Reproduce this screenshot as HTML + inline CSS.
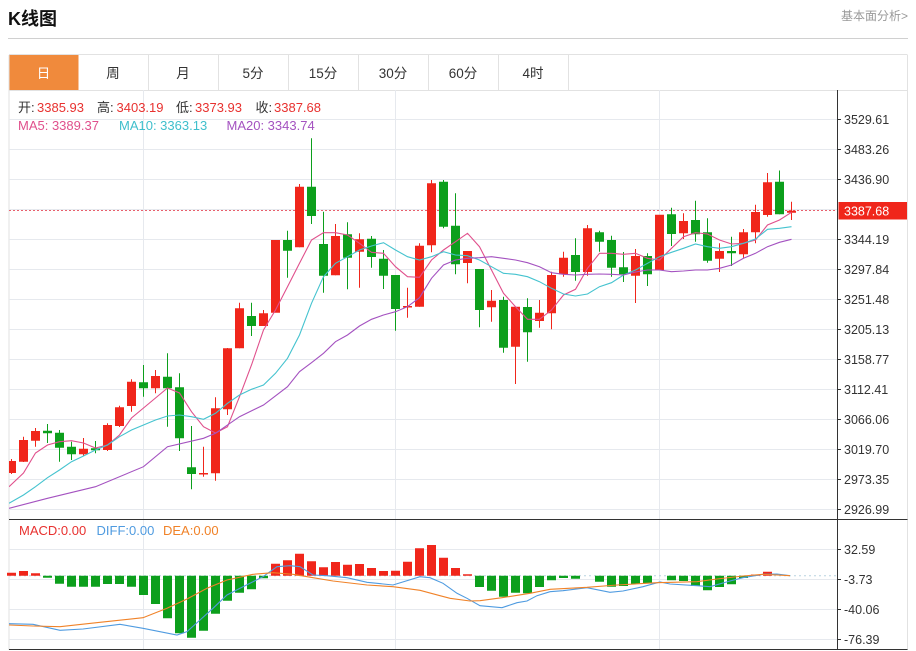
<!DOCTYPE html>
<html><head><meta charset="utf-8"><style>
html,body{margin:0;padding:0;background:#fff;width:916px;height:651px;overflow:hidden}
svg{display:block}
text{font-family:"Liberation Sans","Noto Sans CJK SC",sans-serif}
</style></head><body>
<svg width="916" height="651" viewBox="0 0 916 651" xmlns="http://www.w3.org/2000/svg">
<defs><clipPath id="mc"><rect x="9" y="90" width="828" height="429"/></clipPath></defs>
<!-- header -->
<text x="8" y="25" font-size="18" font-weight="bold" fill="#111">K线图</text>
<text x="841" y="20" font-size="12" fill="#999">基本面分析&gt;</text>
<line x1="8" y1="38.5" x2="908" y2="38.5" stroke="#d0d0d0"/>
<!-- tabs -->
<rect x="9" y="55" width="69.5" height="35" fill="#f08a3c"/>
<path d="M9 54.5H907.5M9 90.5H907.5M148.5 55V90M218.5 55V90M288.5 55V90M358.5 55V90M428.5 55V90M498.5 55V90M568.5 55V90M9 55V650M907.5 55V650" stroke="#e2e2e2" fill="none"/>
<g font-size="13.5" fill="#333" text-anchor="middle">
<text x="43.5" y="78" fill="#fff">日</text><text x="113" y="78">周</text><text x="183" y="78">月</text><text x="253" y="78">5分</text><text x="323" y="78">15分</text><text x="393" y="78">30分</text><text x="463" y="78">60分</text><text x="533" y="78">4时</text>
</g>
<!-- grid -->
<path d="M9 119.5H837M9 149.5H837M9 179.5H837M9 209.5H837M9 239.5H837M9 269.5H837M9 299.5H837M9 329.5H837M9 359.5H837M9 389.5H837M9 419.5H837M9 449.5H837M9 479.5H837M9 509.5H837M9 549.5H837M9 579.5H837M9 609.5H837M9 639.5H837M143.5 90V650M395.5 90V650M659.5 90V650" stroke="#e6e9ee" fill="none"/>
<!-- frames -->
<path d="M9 519.5H907.5M9 649.5H907.5M837.5 90V650" stroke="#333" fill="none"/>
<!-- axis ticks -->
<path d="M837 119.5h4M837 149.5h4M837 179.5h4M837 239.5h4M837 269.5h4M837 299.5h4M837 329.5h4M837 359.5h4M837 389.5h4M837 419.5h4M837 449.5h4M837 479.5h4M837 509.5h4M837 549.5h4M837 579.5h4M837 609.5h4M837 639.5h4" stroke="#333"/>
<g font-size="12.5" fill="#333">
<text x="844" y="124">3529.61</text><text x="844" y="154">3483.26</text><text x="844" y="184">3436.90</text><text x="844" y="244">3344.19</text><text x="844" y="274">3297.84</text><text x="844" y="304">3251.48</text><text x="844" y="334">3205.13</text><text x="844" y="364">3158.77</text><text x="844" y="394">3112.41</text><text x="844" y="424">3066.06</text><text x="844" y="454">3019.70</text><text x="844" y="484">2973.35</text><text x="844" y="514">2926.99</text>
<text x="844" y="554">32.59</text><text x="844" y="584">-3.73</text><text x="844" y="614">-40.06</text><text x="844" y="644">-76.39</text>
</g>
<!-- current price -->
<line x1="9" y1="210.5" x2="837" y2="210.5" stroke="#e8606e" stroke-dasharray="2,2"/>
<rect x="838.5" y="202" width="68.5" height="17.5" fill="#f0261b"/>
<text x="844" y="215.5" font-size="12.5" fill="#fff">3387.68</text>
<g clip-path="url(#mc)">
<!-- wicks -->
<path stroke="#f0261b" fill="none" d="M11.5 459V474M23.5 436.7V462M35.5 428V446.7M83.5 438V456M107.5 423.3V451M119.5 405.7V427M131.5 379.3V411.7M155.5 370V393.3M203.5 446.7V476.7M215.5 397.3V480.7M227.5 348V415M239.5 302.7V348.3M263.5 310V326M299.5 184V247.3M335.5 224V275.3M359.5 233.3V287.7M407.5 287.7V317.7M419.5 243.3V306.7M431.5 180V252.3M467.5 251V283.3M491.5 290V321.7M515.5 306.7V384M539.5 300V327.7M551.5 271.7V329.3M563.5 251.7V276.7M587.5 225V275.7M635.5 249V303M683.5 213.3V239M719.5 243.3V272M743.5 229V257.7M755.5 204.7V243.3M767.5 173V216.7M791.5 201.7V220"/>
<path stroke="#0c9f1c" fill="none" d="M47.5 424V443M59.5 430V461.7M71.5 441.7V460M95.5 441V453.3M143.5 365V396.7M167.5 353.3V426.7M179.5 373.3V451M191.5 426V489.3M251.5 302.7V336M287.5 230.7V277.7M311.5 138.3V224M323.5 211.7V292.7M347.5 222.3V289.3M371.5 236V267.7M383.5 250V289M395.5 275V330.7M443.5 180V228.3M455.5 193.3V274.3M479.5 269V327.3M503.5 296.7V352.7M527.5 298.3V361.7M575.5 238.3V280.7M599.5 230.7V251.7M611.5 235.7V276.7M623.5 252V282M647.5 253.3V286M671.5 207.7V246M695.5 200.7V241.7M707.5 218.3V262.7M731.5 236.7V266M779.5 170.5V214.3"/>
<!-- bodies -->
<path fill="#f0261b" d="M7 461h9v12h-9zM19 440h9v21.7h-9zM31 431h9v9.7h-9zM79 448.7h9v5.6h-9zM103 425h9v25h-9zM115 407.3h9v18.7h-9zM127 381.7h9v24.3h-9zM151 376h9v12.3h-9zM199 473h9v1.5h-9zM211 408.3h9v65h-9zM223 348.3h9v61h-9zM235 308.3h9v40h-9zM259 313.3h9v12.7h-9zM271 240h9v72.7h-9zM295 186.7h9v60.6h-9zM331 236h9v39.3h-9zM355 239.3h9v12.4h-9zM403 306h9v1.5h-9zM415 245.7h9v61h-9zM427 183.3h9v62h-9zM463 251h9v12h-9zM487 300.7h9v6.6h-9zM511 306.7h9v40h-9zM535 312.7h9v8.3h-9zM547 275h9v38.3h-9zM559 257.7h9v16.6h-9zM583 228.3h9v43.7h-9zM631 256h9v19.7h-9zM655 214.7h9v55.3h-9zM679 221h9v12.3h-9zM715 251h9v7.7h-9zM739 232.3h9v22h-9zM751 212h9v20.3h-9zM763 182.3h9v32.7h-9zM787 210.7h9v2h-9z"/>
<path fill="#0c9f1c" d="M43 430.7h9v2.6h-9zM55 432.7h9v15h-9zM67 446.7h9v7.6h-9zM91 448.3h9v2h-9zM139 382.3h9v6h-9zM163 376.7h9v11.6h-9zM175 387.3h9v51h-9zM187 467.3h9v6.7h-9zM247 316h9v10h-9zM283 240h9v10.7h-9zM307 186.7h9v29.3h-9zM319 244h9v31.7h-9zM343 234.3h9v23.4h-9zM367 238.7h9v18.3h-9zM379 258.7h9v17h-9zM391 275h9v34h-9zM439 181.7h9v45h-9zM451 225.7h9v38.6h-9zM475 269h9v41h-9zM499 300h9v47.7h-9zM523 307h9v25.3h-9zM571 255h9v17h-9zM595 232.3h9v9.4h-9zM607 240h9v27.7h-9zM619 267.3h9v7h-9zM643 256h9v18.3h-9zM667 214.3h9v19.7h-9zM691 220h9v14.3h-9zM703 232.3h9v28.4h-9zM727 251h9v2.3h-9zM775 181.7h9v32.6h-9z"/>
<!-- MA lines -->
<polyline fill="none" stroke="#e0508c" stroke-width="1.1" points="9,486.7 23.5,473 35.5,453 47.5,445 59.5,441.7 71.5,440.7 83.5,443 95.5,448 107.5,445 119.5,435 131.5,418 143.5,408 155.5,398 167.5,388 179.5,393 191.5,411.7 203.5,426.7 215.5,433 227.5,426.7 239.5,396.7 251.5,365 263.5,330 275.5,310 287.5,286.7 299.5,263.3 311.5,240 323.5,232.7 335.5,232.7 347.5,235 359.5,243.3 371.5,252.3 383.5,253.3 395.5,266.7 407.5,276.7 419.5,277.3 431.5,260 443.5,250 455.5,241.7 467.5,233.3 479.5,246.7 491.5,270 503.5,293.3 515.5,306.7 527.5,319.3 539.5,319.3 551.5,310 563.5,295 575.5,289.3 587.5,268.3 599.5,253.3 611.5,253.3 623.5,254.3 635.5,253.3 647.5,258.3 659.5,260 671.5,248.3 683.5,236.7 695.5,232.7 707.5,234 719.5,240 731.5,244 743.5,243.3 755.5,240 767.5,225 779.5,220 791.5,212.3"/>
<polyline fill="none" stroke="#45c3cf" stroke-width="1.1" points="9,503.3 23.5,495 35.5,486.7 47.5,477.7 59.5,470 71.5,461.7 83.5,456 95.5,450 107.5,445 119.5,436.7 131.5,430 143.5,425 155.5,420 167.5,416 179.5,415 191.5,416.7 203.5,419.3 215.5,413.3 227.5,403.3 239.5,395 251.5,389.3 263.5,385 275.5,373.3 287.5,358.3 299.5,335 311.5,303.3 323.5,276.7 335.5,263.3 347.5,256.7 359.5,250 371.5,246 383.5,242.7 395.5,250 407.5,256.7 419.5,260 431.5,256.7 443.5,251.7 455.5,255 467.5,255.7 479.5,260 491.5,266.7 503.5,273.3 515.5,274.3 527.5,276.7 539.5,281.7 551.5,288.3 563.5,294 575.5,296 587.5,294 599.5,286.7 611.5,282.7 623.5,275 635.5,270 647.5,263.3 659.5,256.7 671.5,252.3 683.5,248.3 695.5,244 707.5,246.7 719.5,248.3 731.5,246.7 743.5,243.3 755.5,239 767.5,229.3 779.5,228.3 791.5,226.7"/>
<polyline fill="none" stroke="#a452c0" stroke-width="1.1" points="9,508.3 47.5,498.3 95.5,486.7 143.5,466.7 167.5,446.7 203.5,438.3 215.5,433.3 239.5,416.7 263.5,405 287.5,386.7 299.5,371.7 311.5,362.7 323.5,353.3 335.5,341.7 347.5,335 359.5,326 371.5,319.3 383.5,315 395.5,311.7 407.5,306.7 419.5,297.7 431.5,278.3 443.5,265 455.5,260 467.5,258.3 479.5,257.7 491.5,256.7 503.5,258.3 515.5,260 527.5,262.7 539.5,266.7 551.5,272.7 563.5,274.3 575.5,275 587.5,274.3 599.5,274 611.5,274.3 623.5,275 635.5,272 647.5,270 659.5,270 671.5,271.7 683.5,271 695.5,270 707.5,270 719.5,268.3 731.5,265 743.5,258.3 755.5,253.3 767.5,246.7 779.5,242.3 791.5,239.3"/>
</g>
<!-- legend texts -->
<g font-size="13">
<text x="18" y="112" fill="#333">开:</text><text x="37" y="112" fill="#e8312f">3385.93</text>
<text x="97" y="112" fill="#333">高:</text><text x="116.5" y="112" fill="#e8312f">3403.19</text>
<text x="176" y="112" fill="#333">低:</text><text x="195" y="112" fill="#e8312f">3373.93</text>
<text x="255.5" y="112" fill="#333">收:</text><text x="274" y="112" fill="#e8312f">3387.68</text>
<text x="18" y="130" fill="#e0508c">MA5: 3389.37</text>
<text x="119" y="130" fill="#3fbfcc">MA10: 3363.13</text>
<text x="226.5" y="130" fill="#a452c0">MA20: 3343.74</text>
<text x="19" y="535" fill="#e8312f">MACD:0.00</text>
<text x="96.5" y="535" fill="#4f9be0">DIFF:0.00</text>
<text x="163" y="535" fill="#f08228">DEA:0.00</text>
</g>
<!-- MACD -->
<line x1="9" y1="575.7" x2="837" y2="575.7" stroke="#b8d4e0" stroke-dasharray="2,3"/>
<path fill="#f0261b" d="M7 572.7h9v3h-9zM19 571h9v4.7h-9zM31 573.3h9v2.4h-9zM271 563.7h9v12h-9zM283 560.3h9v15.4h-9zM295 553.7h9v22h-9zM307 561.3h9v14.4h-9zM319 567.3h9v8.4h-9zM331 562h9v13.7h-9zM343 564.7h9v11h-9zM355 564h9v11.7h-9zM367 568h9v7.7h-9zM379 571h9v4.7h-9zM391 570.7h9v5h-9zM403 561.7h9v14h-9zM415 548.3h9v27.4h-9zM427 545h9v30.7h-9zM439 557.7h9v18h-9zM451 568h9v7.7h-9zM463 574.3h9v1.4h-9zM751 574.5h9v1.2h-9zM763 571.7h9v4h-9z"/>
<path fill="#0c9f1c" d="M43 575.7h9v2h-9zM55 575.7h9v8h-9zM67 575.7h9v11h-9zM79 575.7h9v11h-9zM91 575.7h9v11h-9zM103 575.7h9v8.3h-9zM115 575.7h9v8.3h-9zM127 575.7h9v11h-9zM139 575.7h9v19.3h-9zM151 575.7h9v28.3h-9zM163 575.7h9v42.6h-9zM175 575.7h9v57.6h-9zM187 575.7h9v62h-9zM199 575.7h9v55h-9zM211 575.7h9v38h-9zM223 575.7h9v25h-9zM235 575.7h9v17h-9zM247 575.7h9v13.6h-9zM259 575.7h9v2.6h-9zM475 575.7h9v11.3h-9zM487 575.7h9v15h-9zM499 575.7h9v21h-9zM511 575.7h9v17h-9zM523 575.7h9v17.6h-9zM535 575.7h9v11.3h-9zM547 575.7h9v4.6h-9zM559 575.7h9v2.3h-9zM571 575.7h9v3h-9zM595 575.7h9v6h-9zM607 575.7h9v11h-9zM619 575.7h9v10.3h-9zM631 575.7h9v8.3h-9zM643 575.7h9v7.6h-9zM667 575.7h9v4.6h-9zM679 575.7h9v5.3h-9zM691 575.7h9v10.3h-9zM703 575.7h9v14.6h-9zM715 575.7h9v11.3h-9zM727 575.7h9v8.6h-9zM739 575.7h9v2.3h-9z"/>
<polyline fill="none" stroke="#4f9be0" stroke-width="1.1" points="9,623.7 33,624.3 60,630.3 83,629 120,624.3 143,628.3 177,635 187,631.7 200,620 213,608.3 227,595 240,588.3 253,581.7 263,576.7 277,566.7 290,565.7 300,566.7 313,575 327,575.7 347,577.7 367,582.3 393,585 420,576.7 430,577.7 443,583.3 457,593.3 467,598.3 480,605.7 502,607.7 517,602.7 527,601 537,595.7 550,591.7 563,590.7 587,587.7 610,592.3 623,591 643,586.7 660,582 670,584 697,585.7 710,586.7 730,581 743,577.7 763,574.3 777,574 790,575.7"/>
<polyline fill="none" stroke="#f08228" stroke-width="1.1" points="9,625 33,626 60,626.7 100,622.3 143,617.7 167,608.3 187,599 207,588.3 227,580 253,574.3 273,572.7 293,574.3 313,577.7 333,581 367,585 393,586.7 420,590.3 440,595.7 450,598.3 470,601 480,600.7 502,597.7 530,593.3 550,589.3 587,587.3 617,585 657,582.7 697,581.7 717,579 743,576 763,574.3 777,575 790,575.7"/>
</svg>
</body></html>
